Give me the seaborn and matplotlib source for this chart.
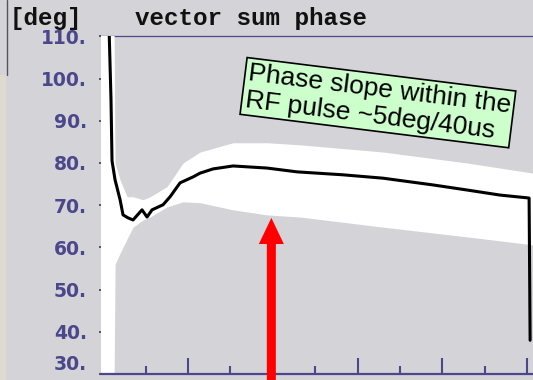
import numpy as np
import pandas as pd
import seaborn as sns
import matplotlib
matplotlib.use("Agg")
import matplotlib.pyplot as plt
from matplotlib.patches import FancyArrow, Rectangle
from matplotlib.lines import Line2D

# ---- data ----
line_t = [0.068, 0.091, 0.103, 0.139, 0.198, 0.233, 0.292, 0.351, 0.457, 0.516,
          0.575, 0.705, 0.788, 0.906, 1.059, 1.142, 1.295, 1.531, 1.932, 2.286,
          2.829, 3.301, 3.891, 4.292, 4.681, 5.024, 5.036]
line_phase = [112, 95, 80.5, 76, 71.3, 67.7, 67.0, 66.5, 68.9, 67.2,
              68.9, 70.1, 72.0, 75.3, 76.7, 77.6, 78.6, 79.3, 78.8, 77.9,
              77.2, 76.4, 74.8, 73.6, 72.4, 71.7, 38]

band_t = [-0.04, 0.127, 0.139, 0.198, 0.28, 0.351, 0.469, 0.552, 0.752, 0.941,
          1.142, 1.531, 1.932, 2.322, 3.301, 4.292, 5.07]
band_upper = [112, 112, 80, 76, 72, 72, 71.3, 72, 74.4, 80,
              82.6, 84.8, 84.8, 84.3, 82.6, 80.0, 77.6]
band_lower = [28, 28, 56, 58.6, 62, 64.8, 66.5, 67.2, 69.6, 70.8,
              70.6, 68.9, 67.7, 67.2, 64.8, 62.5, 60.6]

y_ticks = [30, 40, 50, 60, 70, 80, 90, 100, 110]
y_ticklabels = ["30.", "40.", "50.", "60.", "70.", "80.", "90.", "100.", "110."]
x_major = [0, 1, 2, 3, 4, 5]
x_minor = [0.5, 1.5, 2.5, 3.5, 4.5]

title_unit = "[deg]"
title_text = "vector sum phase"
note_text = "Phase slope within the\nRF pulse ~5deg/40us"

# ---- style ----
BG = "#d4d3d8"
PURPLE = "#4a478a"
sns.set_style("white")
plt.rcParams["font.family"] = ["DejaVu Sans"]

W, H = 533, 380
fig = plt.figure(figsize=(W / 100, H / 100), dpi=100, facecolor=BG)
left_px, right_px, top_px, bottom_px = 101, 533, 36.4, 374
ax = fig.add_axes([left_px / W, (H - bottom_px) / H,
                   (right_px - left_px) / W, (bottom_px - top_px) / H])
ax.set_facecolor(BG)

# white envelope band
ax.fill_between(band_t, band_lower, band_upper, color="white", lw=0, zorder=1)

# black vector-sum phase line
df = pd.DataFrame({"t": line_t, "phase": line_phase})
sns.lineplot(data=df, x="t", y="phase", ax=ax, color="black", lw=2.2,
             sort=False, estimator=None, zorder=3)

ax.set_xlim(-0.027, 5.07)
ax.set_ylim(30, 110)
ax.set_xlabel("")
ax.set_ylabel("")

# spines
for s in ["left", "right"]:
    ax.spines[s].set_visible(False)
ax.spines["bottom"].set_color(PURPLE)
ax.spines["bottom"].set_linewidth(1.6)
ax.spines["top"].set_color(PURPLE)
ax.spines["top"].set_linewidth(0.9)
ax.spines["top"].set_zorder(0.5)

# x ticks (inward, purple, no labels)
ax.set_xticks(x_major)
ax.set_xticks(x_minor, minor=True)
ax.tick_params(axis="x", which="major", direction="in", length=11.5, width=1.5,
               color=PURPLE, labelbottom=False, bottom=True)
ax.tick_params(axis="x", which="minor", direction="in", length=5.8, width=1.5,
               color=PURPLE, bottom=True)

# y ticks
ax.set_yticks(y_ticks)
ax.set_yticklabels(y_ticklabels)
ax.tick_params(axis="y", which="major", direction="out", length=1.8, width=1.2,
               color="#404040", pad=8.5, left=True, labelsize=13.5,
               labelcolor=PURPLE)
for lab in ax.get_yticklabels():
    lab.set_fontweight("bold")
ax.get_yticklabels()[0].set_verticalalignment("bottom")

# title texts
fig.text(10 / W, 1 - 18 / H, title_unit, family="Liberation Mono",
         fontweight="bold", fontsize=17.5, color="#111111", va="center", ha="left")
fig.text(135 / W, 1 - 18 / H, title_text, family="Liberation Mono",
         fontweight="bold", fontsize=17.5, color="#111111", va="center", ha="left")

# left edge decoration
fig.add_artist(Rectangle((0, 0), 6 / W, 1 - 75 / H, transform=fig.transFigure,
                         facecolor="#dedad0", edgecolor="none"))
fig.add_artist(Line2D([7 / W, 7 / W], [1 - 75 / H, 1], transform=fig.transFigure,
                      color="#555555", lw=1))

# annotation box
ax.text(3.24, 94.3, note_text, family="Liberation Sans", fontsize=19,
        color="black", rotation=-7.1, rotation_mode="anchor", ha="center",
        va="center", multialignment="left", linespacing=1.15, zorder=5,
        bbox=dict(boxstyle="square,pad=0.12", facecolor="#ccffcc",
                  edgecolor="black", lw=1.2))

# red arrow
arrow = FancyArrow(1.983, 28.4, 0, 67.0 - 28.4, width=0.106, head_width=0.295,
                   head_length=6.2, length_includes_head=True,
                   color="#ff0000", lw=0, clip_on=False, zorder=6)
ax.add_patch(arrow)

fig.savefig("out.png", dpi=100, facecolor=BG)
